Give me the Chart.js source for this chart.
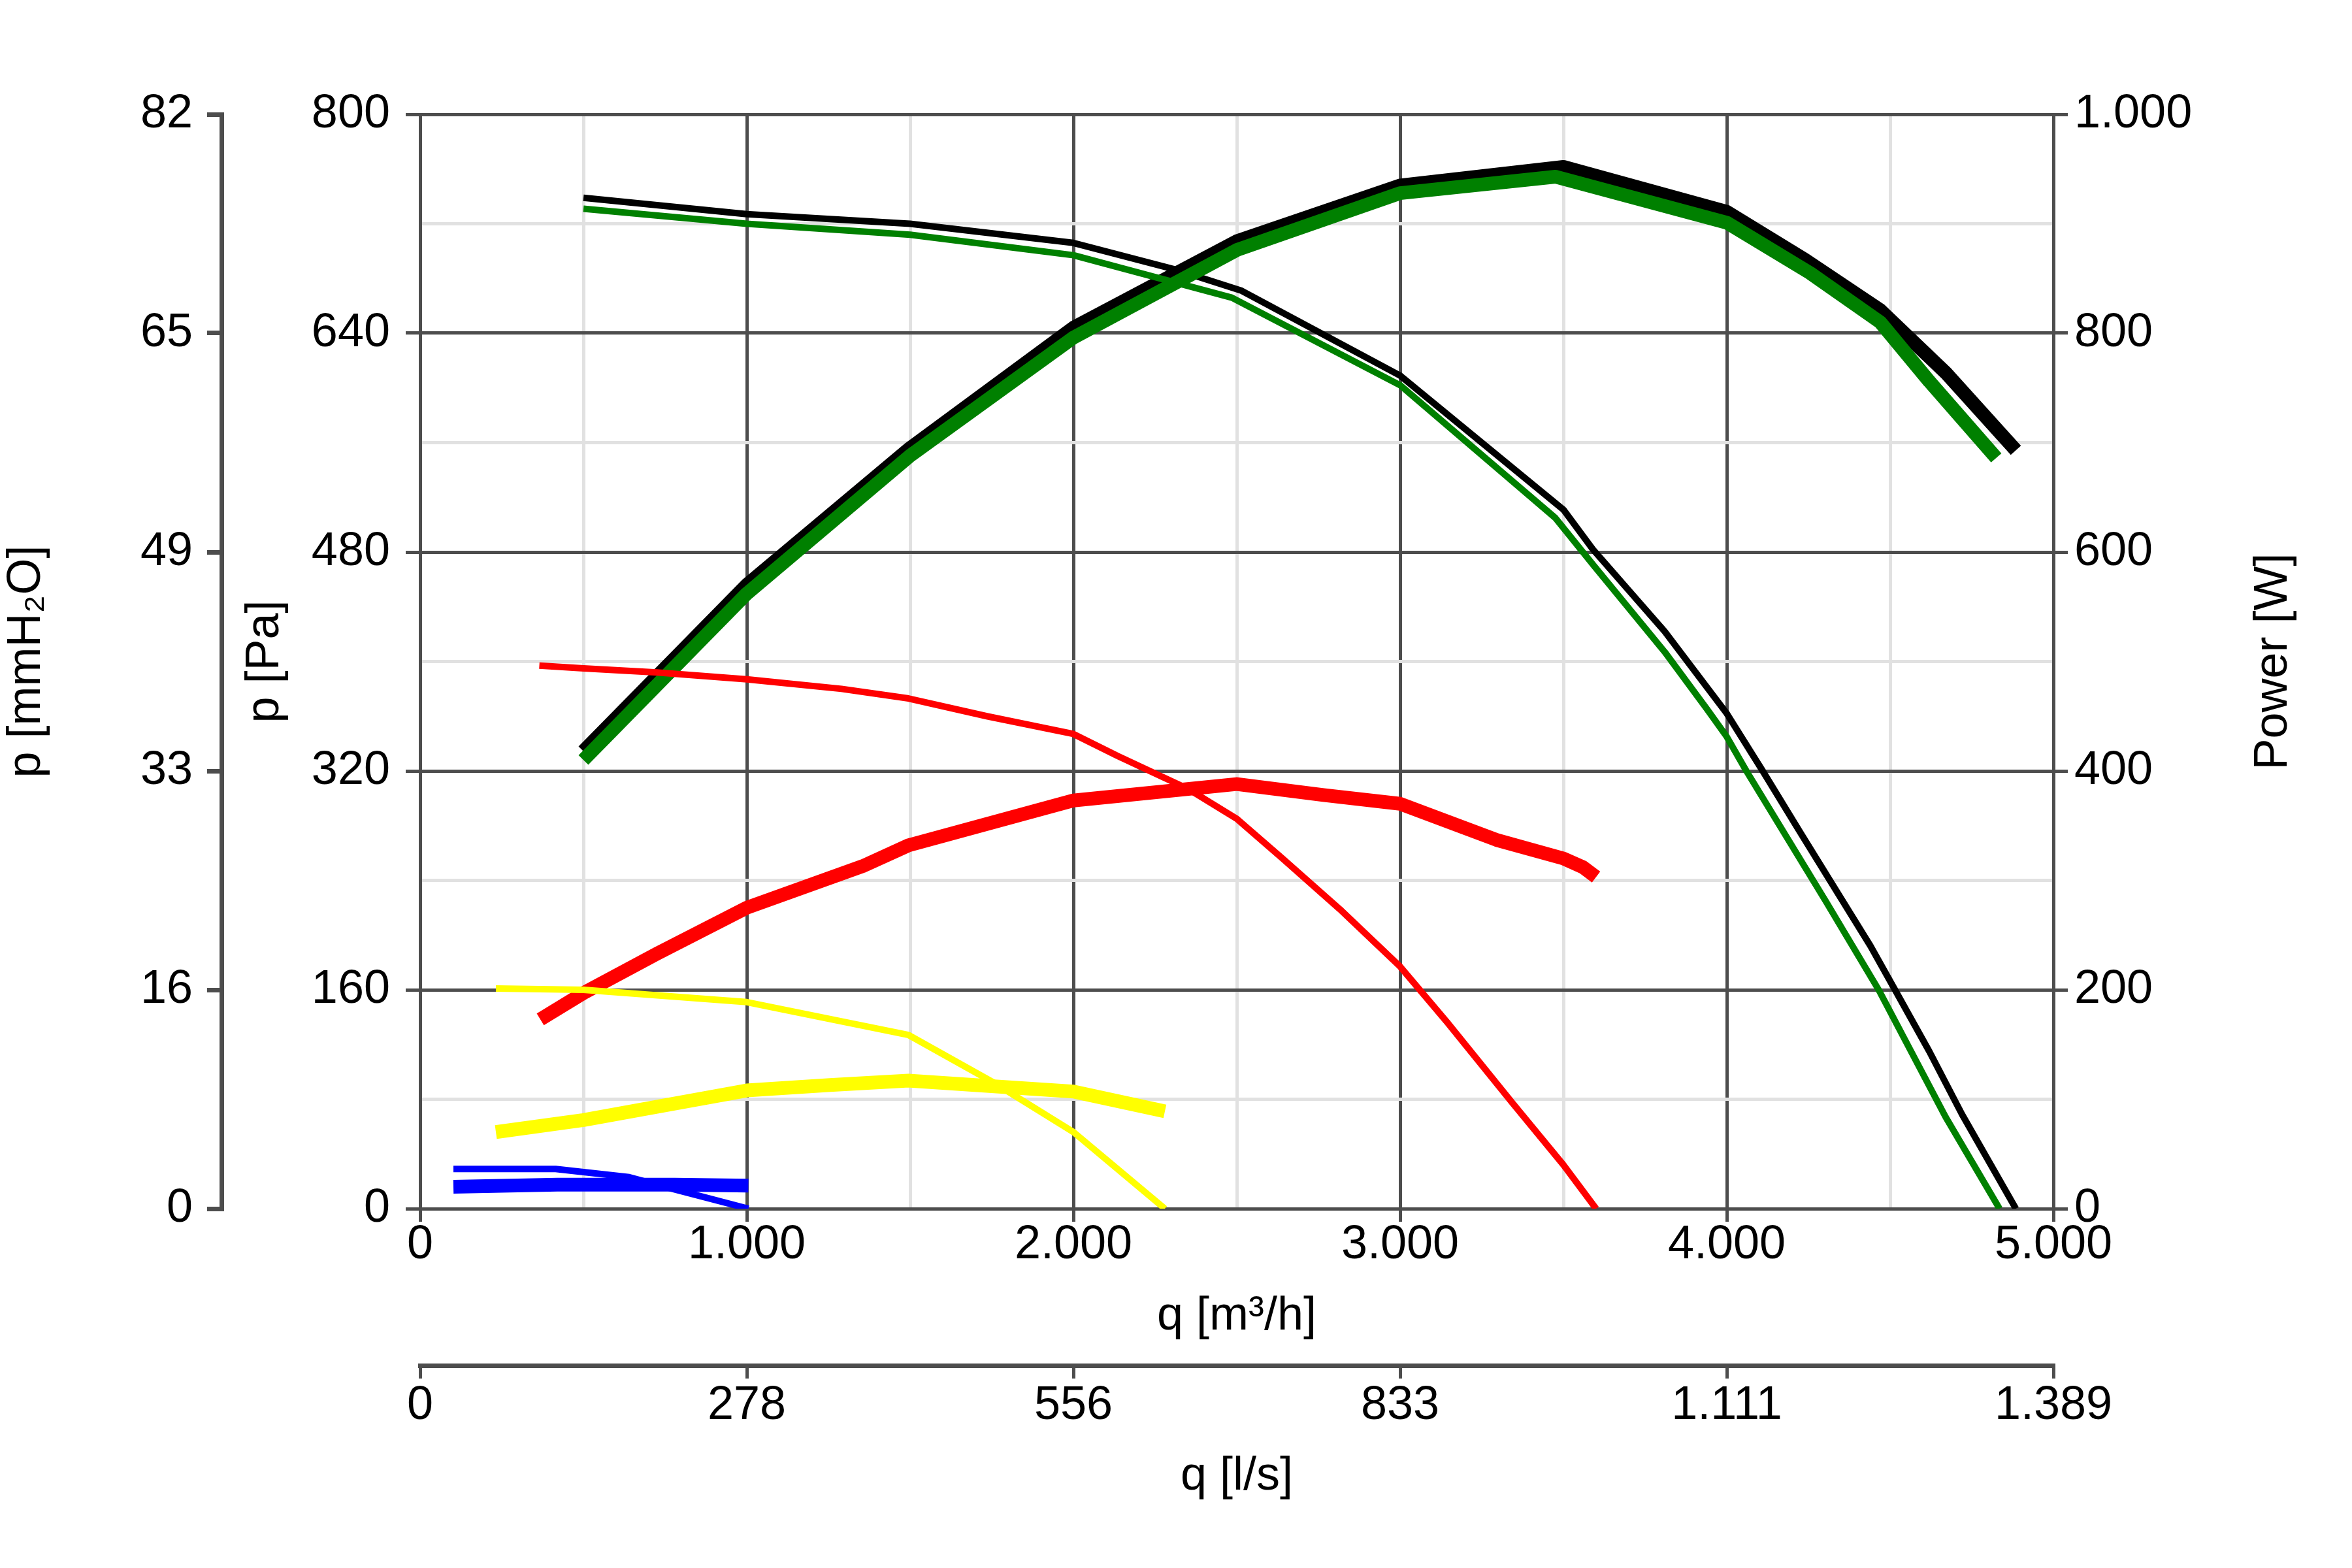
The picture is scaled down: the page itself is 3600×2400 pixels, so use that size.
<!DOCTYPE html>
<html>
<head>
<meta charset="utf-8">
<script src="https://cdn.jsdelivr.net/npm/chart.js@4.4.1/dist/chart.umd.min.js"></script>
<style>
  html, body { margin: 0; padding: 0; background: #fff; }
  #wrap { width: 3600px; height: 2400px; }
</style>
</head>
<body>
<div id="wrap"><canvas id="fanChart"></canvas></div>
<script>
// tick labels
const qTickLabels = ["0", "1.000", "2.000", "3.000", "4.000", "5.000"];
const lsTickLabels = ["0", "278", "556", "833", "1.111", "1.389"];
const paTickLabels = ["0", "160", "320", "480", "640", "800"];
const mmTickLabels = ["0", "16", "33", "49", "65", "82"];
const powerTickLabels = ["0", "200", "400", "600", "800", "1.000"];

// pressure curves: q [m3/h] -> p [Pa]
const blackPressQ = [500, 1000, 1500, 2000, 2320, 2515, 3000, 3500, 3590, 3810, 4000, 4110, 4225, 4440, 4515, 4620, 4720, 4885];
const blackPress = [739, 727, 720, 706, 686, 671, 609, 511, 482, 422, 362, 320, 275, 192, 160, 115, 69, 0];
const greenPressQ = [500, 1000, 1500, 2000, 2485, 3000, 3475, 3590, 3810, 3940, 4000, 4060, 4305, 4465, 4670, 4835];
const greenPress = [731, 720, 712, 697, 666, 602, 505, 471, 407, 365, 345, 320, 224, 160, 67, 0];
const redPressQ = [365, 500, 725, 1000, 1290, 1495, 1735, 2000, 2135, 2350, 2500, 2640, 2815, 3000, 3145, 3345, 3500, 3600];
const redPress = [397, 395, 392, 387, 380, 373, 360, 347, 331, 307, 285, 256, 219, 177, 136, 77, 32, 0];
const yellowPressQ = [232, 500, 1000, 1495, 1750, 2000, 2280];
const yellowPress = [161, 160, 151, 127, 93, 56, 0];
const bluePressQ = [102, 415, 640, 780, 1005];
const bluePress = [29, 29, 23, 14, 0];

// power curves: q [m3/h] -> P [W]
const blackPowerQ = [500, 1000, 1500, 2000, 2500, 3000, 3500, 4000, 4240, 4470, 4670, 4885];
const blackPower = [418, 570, 695, 805, 884, 935, 952, 911, 867, 821, 764, 693];
const greenPowerQ = [500, 1000, 1500, 2000, 2500, 3000, 3475, 4000, 4255, 4470, 4620, 4825];
const greenPower = [410, 562, 688, 796, 876, 928, 943, 901, 855, 810, 756, 686];
const redPowerQ = [368, 500, 725, 1000, 1355, 1495, 2000, 2500, 2765, 3000, 3295, 3500, 3560, 3600];
const redPower = [173, 197, 233, 275, 313, 332, 373, 388, 378, 370, 337, 320, 312, 303];
const yellowPowerQ = [232, 500, 1000, 1255, 1495, 1750, 2000, 2280];
const yellowPower = [70, 81, 108, 113, 117, 112, 107, 89];
const bluePowerQ = [102, 420, 780, 1005];
const bluePower = [20, 22, 22, 21];

const DARK = "#4d4d4d";
const LIGHT = "#e1e1e1";
const FONT = '"Liberation Sans", Arial, sans-serif';
const tickFont = { family: FONT, size: 72, lineHeight: 1 };
const titleFont = { family: FONT, size: 72, lineHeight: 1 };
const THIN = 10;
const THICK = 21;

Chart.defaults.font.family = FONT;
Chart.defaults.color = "#000";

const pts = (xs, ys) => xs.map((x, i) => ({ x: x, y: ys[i] }));

function curve(label, color, xs, ys, axis, width, order) {
  return {
    label: label,
    data: pts(xs, ys),
    yAxisID: axis,
    xAxisID: "x",
    borderColor: color,
    backgroundColor: color,
    borderWidth: width,
    borderJoinStyle: "round",
    pointRadius: 0,
    tension: 0,
    fill: false,
    order: order,
  };
}

const isMajor = (ctx, step) => ctx.tick && Math.round(ctx.tick.value) % step === 0;

// Power title reads bottom-to-top on the right side
const powerTitle = {
  id: "powerTitle",
  afterDraw(chart) {
    const s = chart.scales.yW;
    const ctx = chart.ctx;
    ctx.save();
    ctx.translate(s.left + 337, (chart.chartArea.top + chart.chartArea.bottom) / 2);
    ctx.rotate(-Math.PI / 2);
    ctx.font = "72px " + FONT;
    ctx.fillStyle = "#000";
    ctx.textAlign = "center";
    ctx.textBaseline = "middle";
    ctx.fillText("Power [W]", 0, 0);
    ctx.restore();
  },
};

new Chart(document.getElementById("fanChart").getContext("2d"), {
  type: "line",
  data: {
    datasets: [
      curve("Pressure black", "#000000", blackPressQ, blackPress, "y", THIN, 10),
      curve("Power black", "#000000", blackPowerQ, blackPower, "yW", THICK, 9),
      curve("Pressure green", "#008000", greenPressQ, greenPress, "y", THIN, 8),
      curve("Power green", "#008000", greenPowerQ, greenPower, "yW", THICK, 7),
      curve("Pressure red", "#ff0000", redPressQ, redPress, "y", THIN, 6),
      curve("Power red", "#ff0000", redPowerQ, redPower, "yW", THICK, 5),
      curve("Pressure yellow", "#ffff00", yellowPressQ, yellowPress, "y", THIN, 4),
      curve("Power yellow", "#ffff00", yellowPowerQ, yellowPower, "yW", THICK, 3),
      curve("Pressure blue", "#0000ff", bluePressQ, bluePress, "y", THIN, 2),
      curve("Power blue", "#0000ff", bluePowerQ, bluePower, "yW", THICK, 1),
    ],
  },
  options: {
    responsive: true,
    maintainAspectRatio: false,
    devicePixelRatio: 1,
    animation: false,
    layout: { padding: { top: 175, left: 0, right: 0, bottom: 0 } },
    plugins: {
      legend: { display: false },
      tooltip: { enabled: false },
    },
    scales: {
      x: {
        type: "linear",
        position: "bottom",
        weight: 0,
        min: 0,
        max: 5000,
        ticks: {
          stepSize: 500,
          autoSkip: false,
          maxRotation: 0,
          padding: 0,
          font: tickFont,
          color: "#000",
          callback: (v, i) => (i % 2 === 0 ? qTickLabels[i / 2] : ""),
        },
        grid: {
          color: (c) => (isMajor(c, 1000) ? DARK : LIGHT),
          tickColor: (c) => (isMajor(c, 1000) ? DARK : "rgba(0,0,0,0)"),
          lineWidth: 5,
          tickWidth: 5,
          tickLength: 20,
        },
        border: { color: DARK, width: 5 },
        title: { display: true, text: "q [m³/h]", color: "#000", font: titleFont, padding: { top: 0, bottom: 39 } },
        afterFit: (s) => { s.height = 240; s.paddingLeft = 0; s.paddingRight = 0; },
      },
      x2: {
        type: "linear",
        position: "bottom",
        weight: 1,
        min: 0,
        max: 5000,
        ticks: {
          stepSize: 1000,
          autoSkip: false,
          maxRotation: 0,
          padding: 6,
          font: tickFont,
          color: "#000",
          callback: (v, i) => lsTickLabels[i],
        },
        grid: { drawOnChartArea: false, color: DARK, lineWidth: 5, tickWidth: 5, tickLength: 20 },
        border: { color: DARK, width: 7 },
        title: { display: true, text: "q [l/s]", color: "#000", font: titleFont, padding: { top: 0, bottom: 104 } },
        afterFit: (s) => { s.height = 310; s.paddingLeft = 0; s.paddingRight = 0; },
      },
      y: {
        type: "linear",
        position: "left",
        weight: 0,
        min: 0,
        max: 800,
        ticks: {
          stepSize: 80,
          autoSkip: false,
          padding: 24,
          font: tickFont,
          color: "#000",
          callback: (v, i) => (i % 2 === 0 ? paTickLabels[i / 2] : ""),
        },
        grid: {
          color: (c) => (isMajor(c, 160) ? DARK : LIGHT),
          tickColor: (c) => (isMajor(c, 160) ? DARK : "rgba(0,0,0,0)"),
          lineWidth: 5,
          tickWidth: 5,
          tickLength: 22,
        },
        border: { color: DARK, width: 5 },
        title: { display: true, text: "p [Pa]", color: "#000", font: titleFont, padding: { top: 31, bottom: 0 } },
        afterFit: (s) => { s.width = 304; s.paddingTop = 0; s.paddingBottom = 0; },
      },
      y2: {
        type: "linear",
        position: "left",
        weight: 1,
        min: 0,
        max: 800,
        ticks: {
          stepSize: 160,
          autoSkip: false,
          padding: 22,
          font: tickFont,
          color: "#000",
          callback: (v, i) => mmTickLabels[i],
        },
        grid: { drawOnChartArea: false, color: DARK, lineWidth: 7, tickWidth: 7, tickLength: 22 },
        border: { color: DARK, width: 7 },
        title: { display: true, text: "p [mmH₂O]", color: "#000", font: titleFont, padding: { top: 5, bottom: 0 } },
        afterFit: (s) => { s.width = 339; s.paddingTop = 0; s.paddingBottom = 0; },
      },
      yW: {
        type: "linear",
        position: "right",
        min: 0,
        max: 1000,
        ticks: {
          stepSize: 200,
          autoSkip: false,
          padding: 10,
          font: tickFont,
          color: "#000",
          callback: (v, i) => powerTickLabels[i],
        },
        grid: { drawOnChartArea: false, color: DARK, lineWidth: 5, tickWidth: 5, tickLength: 22 },
        border: { color: DARK, width: 5 },
        title: { display: false },
        afterFit: (s) => { s.width = 457; s.paddingTop = 0; s.paddingBottom = 0; },
      },
    },
  },
  plugins: [powerTitle],
});
</script>
</body>
</html>
